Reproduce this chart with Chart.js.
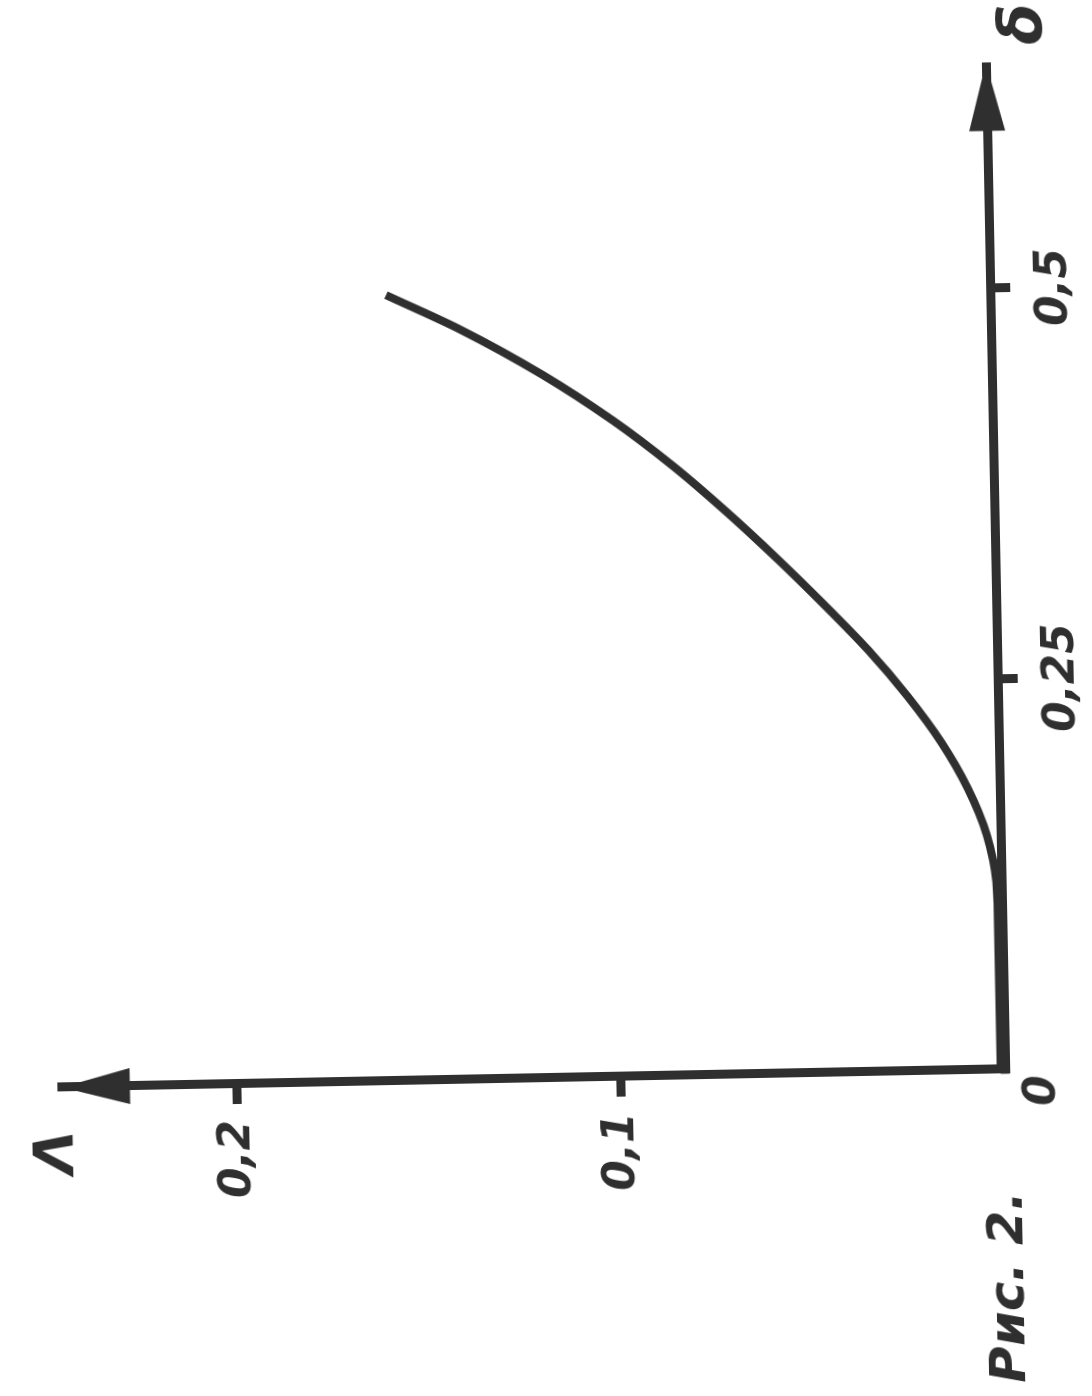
<!DOCTYPE html>
<html>
<head>
<meta charset="utf-8">
<script src="https://cdn.jsdelivr.net/npm/chart.js@4.4.1/dist/chart.umd.min.js"></script>
<style>
html, body { margin: 0; padding: 0; width: 1092px; height: 1396px; overflow: hidden; background: #fff; }
/* рисунок в оригинале повёрнут на бок, поворачиваем холст целиком */
#wrap { position: absolute; left: -152px; top: 152px; width: 1396px; height: 1092px;
        transform: rotate(-91.1deg); transform-origin: 50% 50%; }
</style>
</head>
<body>
<div id="wrap"><canvas id="fig" width="1396" height="1092"></canvas></div>
<script>
// Рис. 2: зависимость Λ от δ

const deltaValues  = [0, 0.05, 0.10, 0.12, 0.15, 0.18, 0.21, 0.24, 0.27, 0.30, 0.33, 0.36, 0.39, 0.42, 0.45, 0.48, 0.503];
const lambdaValues = [0.0012, 0.0012, 0.0012, 0.0014, 0.0036, 0.0083, 0.0150, 0.0236, 0.0336, 0.0450, 0.0570, 0.0697, 0.0834, 0.0989, 0.1169, 0.1381, 0.1573];

const deltaTicks = [0.25, 0.5];
const deltaTickLabels = ['0,25', '0,5'];
const lambdaTicks = [0.1, 0.2];
const lambdaTickLabels = ['0,1', '0,2'];
const deltaMax = 0.6442;
const lambdaMax = 0.2456;

const originLabel = '0';
const xTitle = 'δ';
const yTitle = 'Λ';
const caption = 'Рис. 2.';

const ink = '#2f2f2f';
const handFont = '"DejaVu Sans", sans-serif';

// стрелки на осях и надписи от руки
const handDrawn = {
    id: 'handDrawn',
    afterDraw(chart) {
        const { ctx, scales: { x, y } } = chart;
        const x0 = x.getPixelForValue(0);
        const y0 = y.getPixelForValue(0);
        const xEnd = x.getPixelForValue(deltaMax);
        const yEnd = y.getPixelForValue(lambdaMax);

        ctx.save();
        ctx.fillStyle = ink;

        ctx.beginPath();
        ctx.moveTo(xEnd, y0);
        ctx.lineTo(xEnd - 68, y0 - 18);
        ctx.lineTo(xEnd - 68, y0 + 18);
        ctx.closePath();
        ctx.fill();

        ctx.beginPath();
        ctx.moveTo(x0, yEnd);
        ctx.lineTo(x0 - 18, yEnd + 68);
        ctx.lineTo(x0 + 18, yEnd + 68);
        ctx.closePath();
        ctx.fill();

        ctx.fillRect(x0 - 4.5, y0 - 4.5, 9, 9);

        ctx.textAlign = 'center';
        ctx.textBaseline = 'middle';
        ctx.font = 'italic bold 44px ' + handFont;
        ctx.fillText(originLabel, x0 - 22, y0 + 38);
        ctx.font = 'italic bold 60px ' + handFont;
        ctx.fillText(xTitle, xEnd + 38, y0 + 40);
        ctx.font = 'italic bold 56px ' + handFont;
        ctx.fillText(yTitle, x0 - 65, yEnd - 5);
        ctx.font = 'italic bold 50px ' + handFont;
        ctx.fillText(caption, x0 - 218, y0 + 1);
        ctx.restore();
    }
};

const axisGrid = {
    drawOnChartArea: false,
    drawTicks: true,
    tickLength: 20,
    tickWidth: 9,
    tickColor: ink,
    color: ink
};

const tickFont = { family: handFont, size: 44, style: 'italic', weight: 'bold' };

new Chart(document.getElementById('fig').getContext('2d'), {
    type: 'scatter',
    data: {
        datasets: [{
            data: deltaValues.map((d, i) => ({ x: d, y: lambdaValues[i] })),
            showLine: true,
            borderColor: ink,
            borderWidth: 8,
            pointRadius: 0,
            cubicInterpolationMode: 'monotone'
        }]
    },
    options: {
        responsive: false,
        animation: false,
        devicePixelRatio: 1,
        layout: { padding: { top: 54.5, right: 71.5, left: 0, bottom: 0 } },
        plugins: {
            legend: { display: false },
            tooltip: { enabled: false }
        },
        scales: {
            x: {
                type: 'linear',
                min: 0,
                max: deltaMax,
                border: { display: true, width: 9, color: ink },
                grid: axisGrid,
                afterBuildTicks: scale => { scale.ticks = deltaTicks.map(v => ({ value: v })); },
                afterFit: scale => { scale.height = 94; },
                ticks: {
                    color: ink,
                    font: tickFont,
                    padding: 18,
                    maxRotation: 0,
                    callback: value => deltaTickLabels[deltaTicks.indexOf(value)]
                }
            },
            y: {
                type: 'linear',
                min: 0,
                max: lambdaMax,
                border: { display: true, width: 9, color: ink },
                grid: axisGrid,
                afterBuildTicks: scale => { scale.ticks = lambdaTicks.map(v => ({ value: v })); },
                afterFit: scale => { scale.width = 318; },
                ticks: {
                    color: ink,
                    font: tickFont,
                    padding: 16,
                    callback: value => lambdaTickLabels[lambdaTicks.indexOf(value)]
                }
            }
        }
    },
    plugins: [handDrawn]
});
</script>
</body>
</html>
